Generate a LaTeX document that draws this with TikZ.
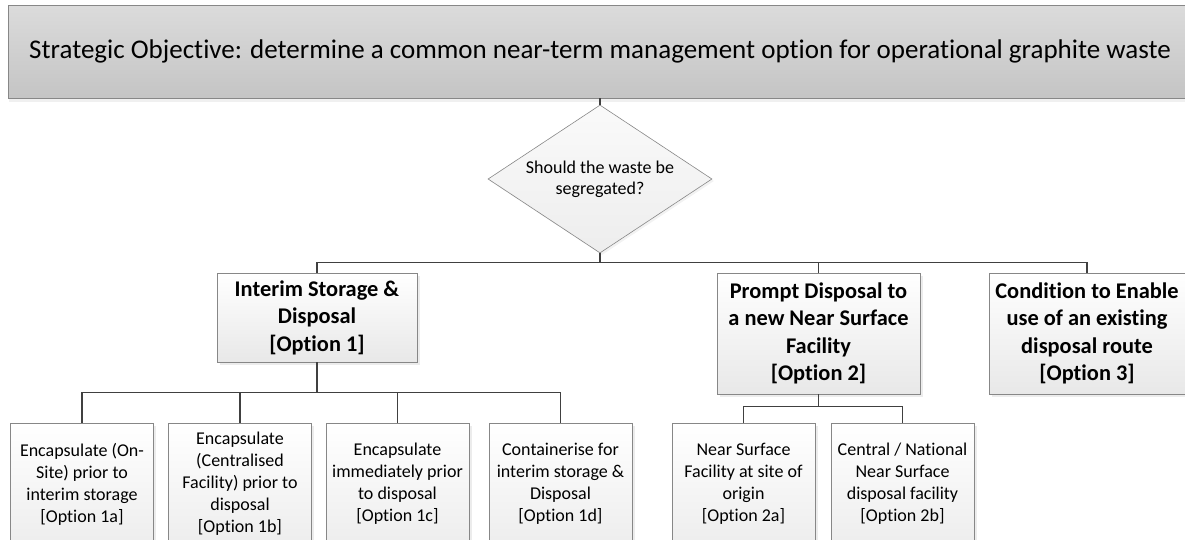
\documentclass[tikz,border=0pt]{standalone}
\usepackage{fontspec}
\setmainfont{Carlito}[Ligatures=NoCommon]
\usepackage{xcolor}
\usepackage{tikz}
\usetikzlibrary{shapes.geometric,shadows}

\definecolor{boxline}{HTML}{878787}
\definecolor{linkline}{HTML}{404040}

\tikzset{
  goalbox/.style={draw=boxline, line width=0.9pt, top color=black!14, bottom color=black!23,
    inner sep=0pt, drop shadow={shadow xshift=1pt, shadow yshift=-4pt, opacity=0.12}},
  question/.style={diamond, aspect=1.51, draw=boxline, line width=0.6pt, top color=black!2,
    bottom color=black!7, minimum width=224pt, minimum height=148pt, inner sep=0pt, align=center,
    font=\fontsize{18}{21}\selectfont,
    drop shadow={shadow xshift=2pt, shadow yshift=-2pt, opacity=0.1}},
  optbox/.style={draw=boxline, line width=0.8pt, top color=white, bottom color=black!9,
    inner sep=0pt, align=center, font=\bfseries\fontsize{22.4}{27.5}\selectfont,
    drop shadow={shadow xshift=2.5pt, shadow yshift=-2.5pt, opacity=0.15}},
  subbox/.style={draw=boxline, line width=0.8pt, top color=white, bottom color=black!7,
    inner sep=0pt, align=center, minimum width=143pt, minimum height=122pt,
    font=\fontsize{18}{22}\selectfont,
    drop shadow={shadow xshift=2.5pt, shadow yshift=-2.5pt, opacity=0.15}},
  link/.style={draw=linkline, line width=1.6pt}
}

\begin{document}
\begin{tikzpicture}[x=1pt,y=-1pt]
% Albero delle opzioni per i rifiuti di grafite operativa
\clip (0,0) rectangle (1185,539);

\node[goalbox, minimum width=1184pt, minimum height=93pt] (goal) at (600,51.5)
  {\fontsize{27}{32}\selectfont Strategic Objective: determine a common near-term management option for operational graphite waste};

\node[question] (seg) at (600,179) {Should the waste be\\segregated?};

\node[optbox, minimum width=200pt, minimum height=89pt] (opt1) at (317,317.5)
  {Interim Storage \&\\Disposal\\{}[Option 1]};
\node[optbox, minimum width=203pt, minimum height=121pt] (opt2) at (818.5,333.5)
  {Prompt Disposal to\\a new Near Surface\\Facility\\{}[Option 2]};
\node[optbox, minimum width=196pt, minimum height=121pt] (opt3) at (1087,333.5)
  {Condition to Enable\\use of an existing\\disposal route\\{}[Option 3]};

\node[subbox] (opt1a) at (82,484) {Encapsulate (On-\\Site) prior to\\interim storage\\{}[Option 1a]};
\node[subbox] (opt1b) at (240,484) {Encapsulate\\(Centralised\\Facility) prior to\\disposal\\{}[Option 1b]};
\node[subbox] (opt1c) at (397.5,484) {Encapsulate\\immediately prior\\to disposal\\{}[Option 1c]};
\node[subbox] (opt1d) at (560.5,484) {Containerise for\\interim storage \&\\Disposal\\{}[Option 1d]};
\node[subbox] (opt2a) at (743.5,484) {Near Surface\\Facility at site of\\origin\\{}[Option 2a]};
\node[subbox] (opt2b) at (902.5,484) {Central / National\\Near Surface\\disposal facility\\{}[Option 2b]};

\draw[link] (goal.south) -- (seg.north);
\foreach \opt in {opt1,opt2,opt3}
  \draw[link] (seg.south) -- ++(0,9) -| (\opt.north);
\foreach \sub in {opt1a,opt1b,opt1c,opt1d}
  \draw[link] (opt1.south) -- ++(0,30) -| (\sub.north);
\foreach \sub in {opt2a,opt2b}
  \draw[link] (opt2.south) -- ++(0,12) -| (\sub.north);
\end{tikzpicture}
\end{document}
